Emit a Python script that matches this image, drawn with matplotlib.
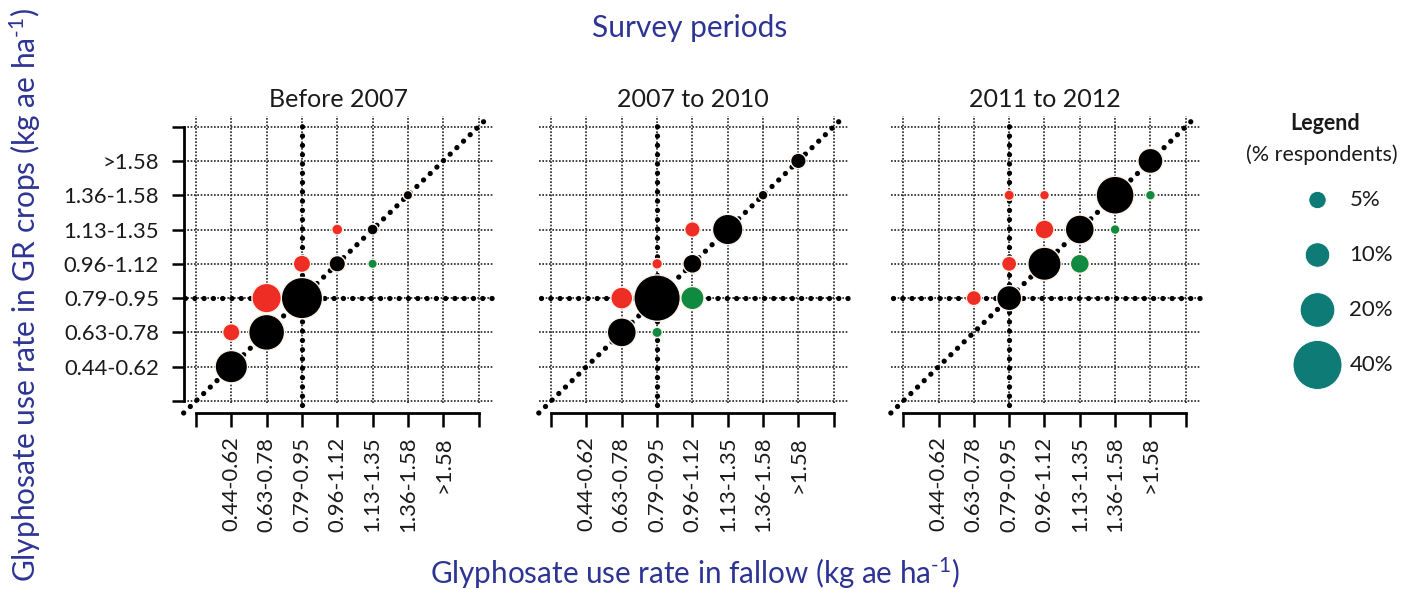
import numpy as np
import matplotlib
matplotlib.use('Agg')
import matplotlib.pyplot as plt

plt.rcParams['font.family'] = ['Lato', 'DejaVu Sans']
plt.rcParams['mathtext.fontset'] = 'custom'
plt.rcParams['mathtext.rm'] = 'Lato'
plt.rcParams['mathtext.default'] = 'regular'

rate_classes = ['0.44-0.62', '0.63-0.78', '0.79-0.95', '0.96-1.12',
                '1.13-1.35', '1.36-1.58', '>1.58']
periods = ['Before 2007', '2007 to 2010', '2011 to 2012']
ref_class = 3  # 0.79-0.95

# rate class number (1 = 0.44-0.62 ... 7 = >1.58) in fallow / GR crops, and % respondents
fallow_before = [1, 2, 3, 2, 1, 3, 4, 4, 5, 5, 6]
crop_before = [1, 2, 3, 3, 2, 4, 5, 4, 5, 4, 6]
pct_before = [17.5, 21.5, 28.5, 14.5, 5, 5, 2, 4.5, 2, 1.5, 1.5]

fallow_mid = [2, 2, 3, 4, 3, 3, 4, 4, 5, 6, 7]
crop_mid = [2, 3, 3, 3, 2, 4, 4, 5, 5, 6, 7]
pct_mid = [14, 8, 36, 9, 1.8, 1.9, 6, 4, 15.5, 1.6, 4]

fallow_late = [2, 3, 3, 4, 5, 4, 5, 6, 3, 4, 6, 7, 7]
crop_late = [3, 3, 4, 4, 4, 5, 5, 5, 6, 6, 6, 6, 7]
pct_late = [3.8, 10.5, 3.8, 18.5, 6, 6, 14, 1.6, 1.8, 1.6, 24, 1.6, 10.5]

legend_pct = [5, 10, 20, 40]

fallow_all = [fallow_before, fallow_mid, fallow_late]
crop_all = [crop_before, crop_mid, crop_late]
pct_all = [pct_before, pct_mid, pct_late]

navy = '#2d3494'
red = '#ee2e24'
green = '#108a40'
teal = '#0f7b76'
size_k = 31  # marker area (pt^2) per % respondents

fig = plt.figure(figsize=(14.06, 5.89), dpi=100)
lefts = [0.1281, 0.3807, 0.6311]
grid_pos = np.arange(len(rate_classes) + 2)
dots = (0, (0.01, 1.75))

for i, period in enumerate(periods):
    ax = fig.add_axes([lefts[i], 0.293, 0.2248, 0.5153])
    ax.set_xlim(-0.45, 8.5)
    ax.set_ylim(-0.45, 8.4)
    ax.patch.set_visible(False)

    ax.hlines(grid_pos, -0.35, 8.4, colors='#222222', linestyles=(0, (1, 1)), lw=1.2, zorder=1)
    ax.vlines(grid_pos, -0.05, 8.3, colors='#222222', linestyles=(0, (1, 1)), lw=1.2, zorder=1)

    ax.plot([-0.35, 8.25], [-0.35, 8.25], color='k', lw=3.8, ls=dots,
            dash_capstyle='round', zorder=2, clip_on=False)
    ax.plot([ref_class, ref_class], [-0.12, 8.15], color='k', lw=3.8, ls=dots,
            dash_capstyle='round', zorder=2, clip_on=False)
    ax.plot([-0.3, 8.4], [ref_class, ref_class], color='k', lw=3.8, ls=dots,
            dash_capstyle='round', zorder=2, clip_on=False)

    fx = np.array(fallow_all[i])
    cy = np.array(crop_all[i])
    pc = np.array(pct_all[i])
    cols = np.where(cy > fx, red, np.where(cy < fx, green, 'black'))
    ax.scatter(fx, cy, s=size_k * pc, c=cols, edgecolors='#fff3ea', linewidths=1.0,
               zorder=3, clip_on=False)

    for side in ['top', 'right']:
        ax.spines[side].set_visible(False)
    ax.spines['bottom'].set_position(('data', -0.35))
    ax.spines['bottom'].set_bounds(0, 8)
    ax.spines['bottom'].set_linewidth(2.0)
    ax.set_xticks(grid_pos)
    ax.set_xticklabels([''] + rate_classes + [''], rotation=90, va='top')
    ax.tick_params(axis='x', length=10, width=1.8, pad=7, labelsize=15.8,
                   labelcolor='#1a1a1a')

    if i == 0:
        ax.spines['left'].set_position(('data', -0.34))
        ax.spines['left'].set_bounds(0, 8)
        ax.spines['left'].set_linewidth(2.0)
        ax.set_yticks(grid_pos)
        ax.set_yticklabels([''] + rate_classes + [''])
        ax.tick_params(axis='y', length=9, width=1.8, pad=9, labelsize=15.8,
                       labelcolor='#1a1a1a')
    else:
        ax.spines['left'].set_visible(False)
        ax.set_yticks([])

    ax.set_title(period, fontsize=18, pad=4, color='#1a1a1a')

unit = r'(kg ae ha$^{\text{-}1}$)'
fig.text(0.4908, 0.952, 'Survey periods', fontsize=21.5, color=navy, ha='center', va='center')
fig.text(0.494, 0.027, 'Glyphosate use rate in fallow ' + unit, fontsize=21.3,
         color=navy, ha='center', va='center')
fig.text(0.018, 0.499, 'Glyphosate use rate in GR crops ' + unit, fontsize=21.5,
         color=navy, ha='center', va='center', rotation=90)

# legend
fig.text(0.9424, 0.791, 'Legend', fontsize=15.5, fontweight='bold', ha='center', va='center',
         color='#1a1a1a')
fig.text(0.9403, 0.737, '(% respondents)', fontsize=15.5, ha='center', va='center',
         color='#1a1a1a')
lax = fig.add_axes([1290 / 1406, 0.3464, 110 / 1406, 0.348])
lax.set_xlim(-0.25, 0.75)
lax.set_ylim(3.364, -0.364)
lax.axis('off')
ly = np.arange(len(legend_pct))
lax.scatter(np.zeros(len(legend_pct)), ly, s=size_k * np.array(legend_pct), c=teal,
            edgecolors='white', linewidths=0.6, clip_on=False)
for y, p in zip(ly, legend_pct):
    lax.text(0.29, y, f'{p}%', fontsize=16, va='center', ha='left', color='#1a1a1a')

fig.savefig('out.png', dpi=100)
